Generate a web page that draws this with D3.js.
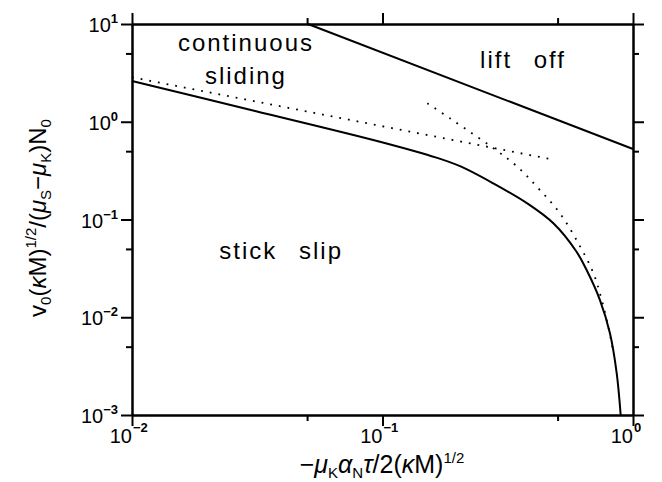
<!DOCTYPE html>
<html>
<head>
<meta charset="utf-8">
<script src="https://cdn.jsdelivr.net/npm/d3@7"></script>
<style>
  body { margin: 0; background: #fff; }
  svg { display: block; }
  text { font-family: "Liberation Sans", Arial, sans-serif; fill: #000; }
</style>
</head>
<body>
<div id="chart"></div>
<script>
const width = 662, height = 482;

// tick values
const xMajor = [0.01, 0.1, 1];
const xExp = ["\u22122", "\u22121", "0"];
const xMinor = [0.05, 0.5];
const yMajor = [0.001, 0.01, 0.1, 1, 10];
const yExp = ["\u22123", "\u22122", "\u22121", "0", "1"];
const yMinor = [0.005, 0.05, 0.5, 5];

// solid boundary: stick slip / continuous sliding
const stickX = [0.01, 0.031, 0.0977, 0.164, 0.204, 0.277, 0.377, 0.481, 0.596, 0.653, 0.738, 0.809, 0.861, 0.893];
const stickY = [2.61, 1.29, 0.625, 0.430, 0.351, 0.234, 0.147, 0.0914, 0.0465, 0.0304, 0.0150, 0.00686, 0.00267, 0.001];

// solid boundary: lift off
const liftX = [0.0504, 1];
const liftY = [10, 0.526];

// dotted asymptotes
const asym1X = [0.01, 0.473];
const asym1Y = [2.85, 0.413];
const asym2X = [0.151, 0.333, 0.419, 0.511, 0.605, 0.695, 0.750, 0.797, 0.839];
const asym2Y = [1.545, 0.376, 0.208, 0.1156, 0.0571, 0.0282, 0.0150, 0.0080, 0.0041];

// region labels (data coordinates)
const labels = [
  {t: "continuous", x: 0.0285, y: 5.3},
  {t: "sliding", x: 0.0285, y: 2.43},
  {t: "lift off", x: 0.364, y: 3.55},
  {t: "stick slip", x: 0.0394, y: 0.0394}
];

const x = d3.scaleLog().domain([0.01, 1]).range([132, 633]);
const y = d3.scaleLog().domain([0.001, 10]).range([415, 24]);

const svg = d3.select("#chart").append("svg")
    .attr("width", width)
    .attr("height", height);

// axes: major + minor, ticks outward on all four sides
function drawAxis(axisFn, scale, major, minor, transform) {
    const gMaj = svg.append("g").attr("transform", transform)
        .call(axisFn(scale).tickValues(major).tickSize(11).tickSizeOuter(0).tickFormat(""));
    const gMin = svg.append("g").attr("transform", transform)
        .call(axisFn(scale).tickValues(minor).tickSize(6).tickSizeOuter(0).tickFormat(""));
    [gMaj, gMin].forEach(g => {
        g.selectAll("path, line").attr("stroke", "#000").attr("stroke-width", 2);
    });
}
drawAxis(d3.axisBottom, x, xMajor, xMinor, `translate(0,${y.range()[0]})`);
drawAxis(d3.axisTop, x, xMajor, xMinor, `translate(0,${y.range()[1]})`);
drawAxis(d3.axisLeft, y, yMajor, yMinor, `translate(${x.range()[0]},0)`);
drawAxis(d3.axisRight, y, yMajor, yMinor, `translate(${x.range()[1]},0)`);

// tick labels
xMajor.forEach((v, i) => {
    svg.append("text").attr("x", x(v)).attr("y", 443).attr("font-size", 20)
        .attr("text-anchor", "end").text("10");
    svg.append("text").attr("x", x(v) + 1).attr("y", 432).attr("font-size", 13)
        .attr("font-weight", "bold").text(xExp[i]);
});
yMajor.forEach((v, i) => {
    const t = svg.append("text").attr("x", 118).attr("y", y(v) + 8)
        .attr("text-anchor", "end").attr("font-size", 20);
    t.append("tspan").text("10");
    t.append("tspan").attr("font-size", 13).attr("font-weight", "bold").attr("dy", -9).text(yExp[i]);
});

// curves
const line = d3.line().x(d => x(d[0])).y(d => y(d[1]));
const lineSmooth = d3.line().x(d => x(d[0])).y(d => y(d[1])).curve(d3.curveCatmullRom);
const zip = (a, b) => a.map((v, i) => [v, b[i]]);

svg.append("path").datum(zip(stickX, stickY))
    .attr("d", lineSmooth).attr("fill", "none").attr("stroke", "#000").attr("stroke-width", 2);
svg.append("path").datum(zip(liftX, liftY))
    .attr("d", line).attr("fill", "none").attr("stroke", "#000").attr("stroke-width", 2);
svg.append("path").datum(zip(asym1X, asym1Y))
    .attr("d", line).attr("fill", "none").attr("stroke", "#000").attr("stroke-width", 1.8)
    .attr("stroke-dasharray", "1.8,7");
svg.append("path").datum(zip(asym2X, asym2Y))
    .attr("d", lineSmooth).attr("fill", "none").attr("stroke", "#000").attr("stroke-width", 1.8)
    .attr("stroke-dasharray", "1.8,7");

// region labels
svg.selectAll("text.region").data(labels).enter().append("text")
    .attr("class", "region")
    .attr("x", d => x(d.x)).attr("y", d => y(d.y))
    .attr("text-anchor", "middle")
    .attr("font-size", 24)
    .attr("letter-spacing", 2)
    .attr("word-spacing", 13)
    .text(d => d.t);

// x axis title
const xt = svg.append("text").attr("x", 382).attr("y", 473)
    .attr("text-anchor", "middle").attr("font-size", 25);
xt.append("tspan").text("\u2212");
xt.append("tspan").attr("font-style", "italic").text("\u03bc");
xt.append("tspan").attr("font-size", 15).attr("dy", 5).text("K");
xt.append("tspan").attr("font-style", "italic").attr("dy", -5).text("\u03b1");
xt.append("tspan").attr("font-size", 15).attr("dy", 5).text("N");
xt.append("tspan").attr("font-style", "italic").attr("dy", -5).text("\u03c4");
xt.append("tspan").text("/2(");
xt.append("tspan").attr("font-style", "italic").text("\u03ba");
xt.append("tspan").text("M)");
xt.append("tspan").attr("font-size", 15).attr("dy", -10).text("1/2");

// y axis title
const yt = svg.append("text")
    .attr("transform", "translate(46,218) rotate(-90)")
    .attr("text-anchor", "middle").attr("font-size", 24);
yt.append("tspan").text("v");
yt.append("tspan").attr("font-size", 15).attr("dy", 5).text("0");
yt.append("tspan").attr("dy", -5).text("(");
yt.append("tspan").attr("font-style", "italic").text("\u03ba");
yt.append("tspan").text("M)");
yt.append("tspan").attr("font-size", 15).attr("dy", -10).text("1/2");
yt.append("tspan").attr("dy", 10).text("/(");
yt.append("tspan").attr("font-style", "italic").text("\u03bc");
yt.append("tspan").attr("font-size", 15).attr("dy", 5).text("S");
yt.append("tspan").attr("dy", -5).text("\u2212");
yt.append("tspan").attr("font-style", "italic").text("\u03bc");
yt.append("tspan").attr("font-size", 15).attr("dy", 5).text("K");
yt.append("tspan").attr("dy", -5).text(")N");
yt.append("tspan").attr("font-size", 15).attr("dy", 5).text("0");
</script>
</body>
</html>
